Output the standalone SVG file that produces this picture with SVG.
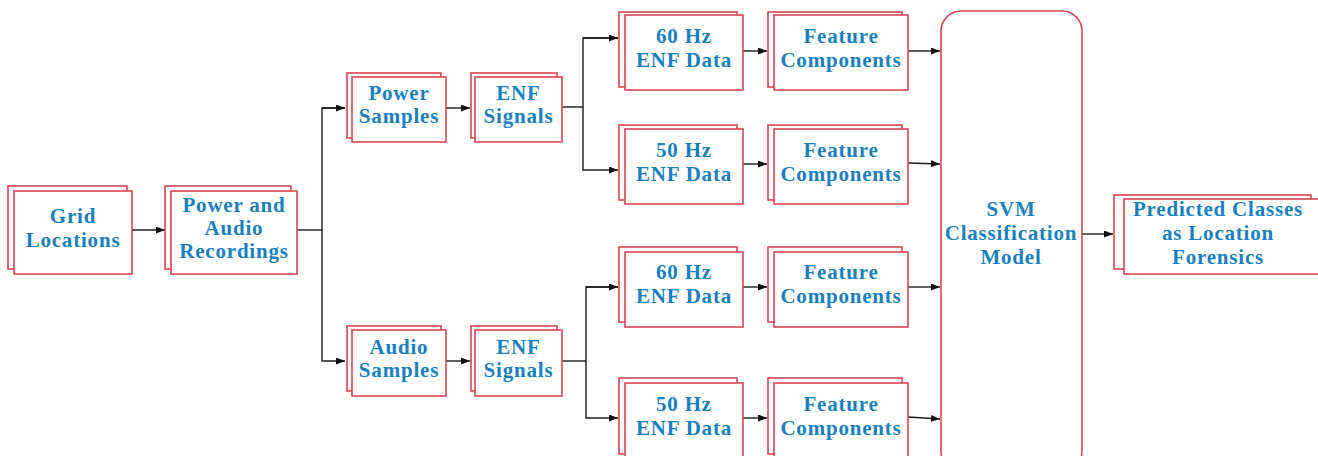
<svg xmlns="http://www.w3.org/2000/svg" width="1318" height="456" viewBox="0 0 1318 456">
<style>
.box{fill:#fff;stroke:#d94452;stroke-width:1.6}
.t{font-family:"Liberation Serif","Times New Roman",serif;font-weight:bold;font-size:21px;letter-spacing:0.8px;fill:#1a7fc0;text-anchor:middle}
.c{fill:none;stroke:#1a1a1a;stroke-width:1.4}
</style>
<defs>
<marker id="ah" markerUnits="userSpaceOnUse" markerWidth="9" markerHeight="7" refX="9" refY="3.5" orient="auto">
<path d="M0,0 L9,3.5 L0,7 z" fill="#111"/>
</marker>
</defs>
<rect width="1318" height="456" fill="#fff"/>

<g id="connectors">
<line class="c" x1="132" y1="230" x2="165" y2="230" marker-end="url(#ah)"/>
<polyline class="c" points="297,230 322,230"/>
<polyline class="c" points="345,108 322,108 322,361 345,361" marker-end="url(#ah)"/>
<line class="c" x1="322" y1="108" x2="345" y2="108" marker-end="url(#ah)"/>
<line class="c" x1="446" y1="108" x2="470" y2="108" marker-end="url(#ah)"/>
<line class="c" x1="446" y1="361" x2="470" y2="361" marker-end="url(#ah)"/>
<polyline class="c" points="562,107 583,107"/>
<polyline class="c" points="618,38 583,38 583,170 618,170" marker-end="url(#ah)"/>
<line class="c" x1="583" y1="38" x2="618" y2="38" marker-end="url(#ah)"/>
<polyline class="c" points="562,361 586,361"/>
<polyline class="c" points="618,287 586,287 586,418 618,418" marker-end="url(#ah)"/>
<line class="c" x1="586" y1="287" x2="618" y2="287" marker-end="url(#ah)"/>
<line class="c" x1="743" y1="51" x2="767" y2="51" marker-end="url(#ah)"/>
<line class="c" x1="743" y1="164" x2="767" y2="164" marker-end="url(#ah)"/>
<line class="c" x1="743" y1="287" x2="767" y2="287" marker-end="url(#ah)"/>
<line class="c" x1="743" y1="418" x2="767" y2="418" marker-end="url(#ah)"/>
<line class="c" x1="908" y1="51" x2="940" y2="51" marker-end="url(#ah)"/>
<line class="c" x1="908" y1="163" x2="940" y2="164" marker-end="url(#ah)"/>
<line class="c" x1="908" y1="287" x2="940" y2="287" marker-end="url(#ah)"/>
<line class="c" x1="908" y1="417" x2="940" y2="419" marker-end="url(#ah)"/>
<line class="c" x1="1082" y1="234" x2="1113" y2="234" marker-end="url(#ah)"/>
</g>

<g id="grid-locations">
<rect class="box" x="8" y="186" width="119" height="83"/>
<rect class="box" x="14" y="191" width="118" height="83"/>
<text class="t" x="73" y="223">Grid</text>
<text class="t" x="73" y="247">Locations</text>
</g>

<g id="power-audio-recordings">
<rect class="box" x="165" y="186" width="126" height="83"/>
<rect class="box" x="171" y="191" width="126" height="83"/>
<text class="t" x="234" y="212">Power and</text>
<text class="t" x="234" y="235">Audio</text>
<text class="t" x="234" y="258">Recordings</text>
</g>

<g id="power-samples">
<rect class="box" x="347" y="73" width="94" height="65"/>
<rect class="box" x="352" y="77" width="94" height="65"/>
<text class="t" x="399" y="100">Power</text>
<text class="t" x="399" y="123">Samples</text>
</g>

<g id="enf-signals-power">
<rect class="box" x="471" y="73" width="86" height="65"/>
<rect class="box" x="475" y="77" width="87" height="65"/>
<text class="t" x="518.5" y="100">ENF</text>
<text class="t" x="518.5" y="123">Signals</text>
</g>

<g id="audio-samples">
<rect class="box" x="347" y="326" width="94" height="65"/>
<rect class="box" x="352" y="330" width="94" height="66"/>
<text class="t" x="399" y="354">Audio</text>
<text class="t" x="399" y="377">Samples</text>
</g>

<g id="enf-signals-audio">
<rect class="box" x="471" y="326" width="86" height="65"/>
<rect class="box" x="475" y="330" width="87" height="66"/>
<text class="t" x="518.5" y="354">ENF</text>
<text class="t" x="518.5" y="377">Signals</text>
</g>

<g id="enf-60-power">
<rect class="box" x="619" y="12" width="118" height="75"/>
<rect class="box" x="625" y="15" width="118" height="75"/>
<text class="t" x="684" y="43">60 Hz</text>
<text class="t" x="684" y="67">ENF Data</text>
</g>

<g id="enf-50-power">
<rect class="box" x="619" y="125" width="118" height="75"/>
<rect class="box" x="625" y="129" width="118" height="75"/>
<text class="t" x="684" y="157">50 Hz</text>
<text class="t" x="684" y="181">ENF Data</text>
</g>

<g id="enf-60-audio">
<rect class="box" x="619" y="247" width="118" height="75"/>
<rect class="box" x="625" y="252" width="118" height="75"/>
<text class="t" x="684" y="279">60 Hz</text>
<text class="t" x="684" y="303">ENF Data</text>
</g>

<g id="enf-50-audio">
<rect class="box" x="619" y="378" width="118" height="76"/>
<rect class="box" x="625" y="383" width="118" height="76"/>
<text class="t" x="684" y="411">50 Hz</text>
<text class="t" x="684" y="435">ENF Data</text>
</g>

<g id="features-60-power">
<rect class="box" x="768" y="12" width="134" height="75"/>
<rect class="box" x="774" y="15" width="134" height="75"/>
<text class="t" x="841" y="43">Feature</text>
<text class="t" x="841" y="67">Components</text>
</g>

<g id="features-50-power">
<rect class="box" x="768" y="125" width="134" height="75"/>
<rect class="box" x="774" y="129" width="134" height="75"/>
<text class="t" x="841" y="157">Feature</text>
<text class="t" x="841" y="181">Components</text>
</g>

<g id="features-60-audio">
<rect class="box" x="768" y="247" width="134" height="75"/>
<rect class="box" x="774" y="252" width="134" height="75"/>
<text class="t" x="841" y="279">Feature</text>
<text class="t" x="841" y="303">Components</text>
</g>

<g id="features-50-audio">
<rect class="box" x="768" y="378" width="134" height="76"/>
<rect class="box" x="774" y="383" width="134" height="76"/>
<text class="t" x="841" y="411">Feature</text>
<text class="t" x="841" y="435">Components</text>
</g>

<g id="svm-model">
<rect class="box" x="941" y="11" width="141" height="460" rx="20" ry="20"/>
<text class="t" x="1011" y="216">SVM</text>
<text class="t" x="1011" y="240">Classification</text>
<text class="t" x="1011" y="264">Model</text>
</g>

<g id="predicted-classes">
<rect class="box" x="1114" y="195" width="197" height="74"/>
<rect class="box" x="1124" y="199" width="210" height="75"/>
<text class="t" x="1218" y="216">Predicted Classes</text>
<text class="t" x="1218" y="240">as Location</text>
<text class="t" x="1218" y="264">Forensics</text>
</g>
</svg>
